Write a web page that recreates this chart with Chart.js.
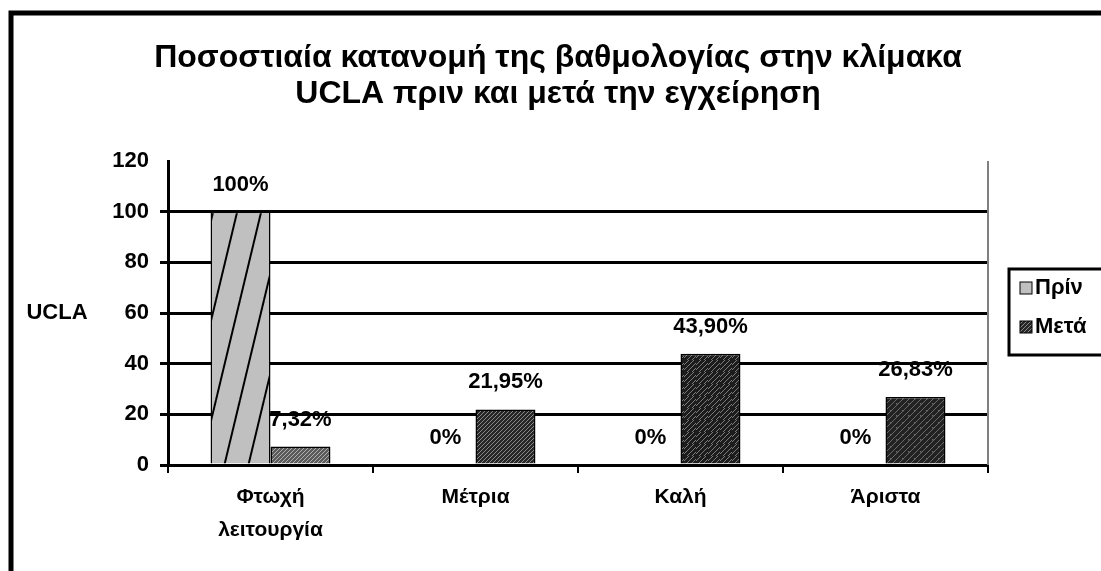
<!DOCTYPE html>
<html lang="el">
<head>
<meta charset="utf-8">
<title>UCLA</title>
<script src="https://cdn.jsdelivr.net/npm/chart.js@4.4.1/dist/chart.umd.min.js"></script>
<style>
  html, body { margin: 0; padding: 0; background: #ffffff; }
  canvas { display: block; }
</style>
</head>
<body>
<canvas id="chart" width="1101" height="571"></canvas>
<script>
// Score categories on the UCLA scale
const categories = [['Φτωχή', 'λειτουργία'], 'Μέτρια', 'Καλή', 'Άριστα'];
// Percentage of patients per category, before and after the operation
const beforeValues = [100, 0, 0, 0];
const afterValues = [7.32, 21.95, 43.90, 26.83];
const seriesNames = ['Πρίν', 'Μετά'];
const yTicks = [0, 20, 40, 60, 80, 100, 120];
const titleLines = ['Ποσοστιαία κατανομή της βαθμολογίας στην κλίμακα', 'UCLA πριν και μετά την εγχείρηση'];
const axisTitle = 'UCLA';

const FONT = '"Liberation Sans", Arial, sans-serif';

// Grey fill with steep black diagonal strokes
function stripePattern() {
  const c = document.createElement('canvas');
  c.width = 24; c.height = 100;
  const g = c.getContext('2d');
  g.fillStyle = '#c0c0c0';
  g.fillRect(0, 0, 24, 100);
  g.strokeStyle = '#000000';
  g.lineWidth = 2;
  for (const dx of [-24, 0, 24]) {
    g.beginPath();
    g.moveTo(dx, 100);
    g.lineTo(dx + 24, 0);
    g.stroke();
  }
  return g.createPattern(c, 'repeat');
}

// Dark fill with fine light hatching
function hatchPattern(base, line, step, dots) {
  const c = document.createElement('canvas');
  c.width = 12; c.height = 12;
  const g = c.getContext('2d');
  g.fillStyle = base;
  g.fillRect(0, 0, 12, 12);
  g.strokeStyle = line;
  g.lineWidth = 1;
  for (let o = -12; o <= 24; o += step) {
    g.beginPath();
    g.moveTo(o, 12);
    g.lineTo(o + 12, 0);
    g.stroke();
  }
  if (dots) {
    g.fillStyle = line;
    g.fillRect(2, 2, 1.5, 1.5);
    g.fillRect(8, 7, 1.5, 1.5);
  }
  return g.createPattern(c, 'repeat');
}

const beforeFill = stripePattern();
const afterFills = [
  hatchPattern('#5a5a5a', '#b0b0b0', 4, false),
  hatchPattern('#262626', '#8a8a8a', 4, false),
  hatchPattern('#1c1c1c', '#7a7a7a', 5, false),
  hatchPattern('#222222', '#6a6a6a', 6, true)
];

function fmtPct(v) {
  const s = Number.isInteger(v) ? String(v) : v.toFixed(2).replace('.', ',');
  return s + '%';
}

// Frame, title, axis caption, plot border, value labels and legend
const decorations = {
  id: 'decorations',
  beforeDraw(chart) {
    const ctx = chart.ctx;
    ctx.save();
    ctx.fillStyle = '#ffffff';
    ctx.fillRect(0, 0, chart.width, chart.height);
    ctx.strokeStyle = '#000000';
    ctx.lineWidth = 5;
    ctx.strokeRect(11, 13, 1300, 800);
    ctx.fillStyle = '#000000';
    ctx.textAlign = 'center';
    ctx.textBaseline = 'middle';
    ctx.font = 'bold 32px ' + FONT;
    ctx.fillText(titleLines[0], 558, 58);
    ctx.fillText(titleLines[1], 558, 94);
    ctx.restore();
  },
  afterDatasetsDraw(chart) {
    const ctx = chart.ctx;
    const area = chart.chartArea;
    const y = chart.scales.y;
    ctx.save();
    // right edge of the plot
    ctx.strokeStyle = '#808080';
    ctx.lineWidth = 2;
    ctx.beginPath();
    ctx.moveTo(area.right, area.top);
    ctx.lineTo(area.right, area.bottom);
    ctx.stroke();

    // axis caption beside the value axis
    ctx.fillStyle = '#000000';
    ctx.font = 'bold 22px ' + FONT;
    ctx.textAlign = 'center';
    ctx.textBaseline = 'middle';
    ctx.fillText(axisTitle, 57, y.getPixelForValue(60));

    // value labels above each bar
    ctx.font = 'bold 22px ' + FONT;
    chart.data.datasets.forEach((ds, i) => {
      const meta = chart.getDatasetMeta(i);
      meta.data.forEach((bar, j) => {
        ctx.fillText(fmtPct(ds.data[j]), bar.x, bar.y - 27);
      });
    });

    // legend
    ctx.strokeStyle = '#000000';
    ctx.lineWidth = 3;
    ctx.strokeRect(1009, 269, 120, 86);
    ctx.textAlign = 'left';
    const rows = [288, 327];
    chart.data.datasets.forEach((ds, i) => {
      const fill = Array.isArray(ds.backgroundColor) ? ds.backgroundColor[1] : ds.backgroundColor;
      ctx.fillStyle = fill;
      ctx.fillRect(1020, rows[i] - 6, 12, 12);
      ctx.lineWidth = 1;
      ctx.strokeRect(1020, rows[i] - 6, 12, 12);
      ctx.fillStyle = '#000000';
      ctx.fillText(ds.label, 1035, rows[i]);
    });
    ctx.restore();
  }
};

new Chart(document.getElementById('chart'), {
  type: 'bar',
  data: {
    labels: categories,
    datasets: [
      {
        label: seriesNames[0],
        data: beforeValues,
        backgroundColor: beforeFill,
        borderColor: '#000000',
        borderWidth: 1.5
      },
      {
        label: seriesNames[1],
        data: afterValues,
        backgroundColor: afterFills,
        borderColor: '#000000',
        borderWidth: 1.5
      }
    ]
  },
  options: {
    responsive: false,
    animation: false,
    devicePixelRatio: 1,
    layout: { padding: { left: 0, right: 113, top: 161, bottom: 0 } },
    datasets: { bar: { categoryPercentage: 0.585, barPercentage: 1 } },
    plugins: {
      legend: { display: false },
      title: { display: false },
      tooltip: { enabled: false }
    },
    scales: {
      x: {
        offset: true,
        grid: {
          offset: true,
          drawOnChartArea: false,
          drawTicks: true,
          tickLength: 8,
          color: '#000000',
          lineWidth: 2
        },
        border: { display: true, color: '#000000', width: 3 },
        ticks: {
          color: '#000000',
          font: { family: FONT, size: 21, weight: 'bold', lineHeight: 1.57 },
          padding: 8,
          maxRotation: 0,
          autoSkip: false
        },
        afterFit(scale) { scale.height = 106; }
      },
      y: {
        min: 0,
        max: 120,
        afterBuildTicks(scale) { scale.ticks = yTicks.map(v => ({ value: v })); },
        grid: {
          color: ctx => (ctx.tick && ctx.tick.value === 120 ? 'rgba(0,0,0,0)' : '#000000'),
          lineWidth: 3,
          tickLength: 8,
          drawTicks: true
        },
        border: { display: true, color: '#000000', width: 3 },
        ticks: {
          color: '#000000',
          font: { family: FONT, size: 22, weight: 'bold' },
          padding: 11
        },
        afterFit(scale) { scale.width = 168; }
      }
    }
  },
  plugins: [decorations]
});
</script>
</body>
</html>
